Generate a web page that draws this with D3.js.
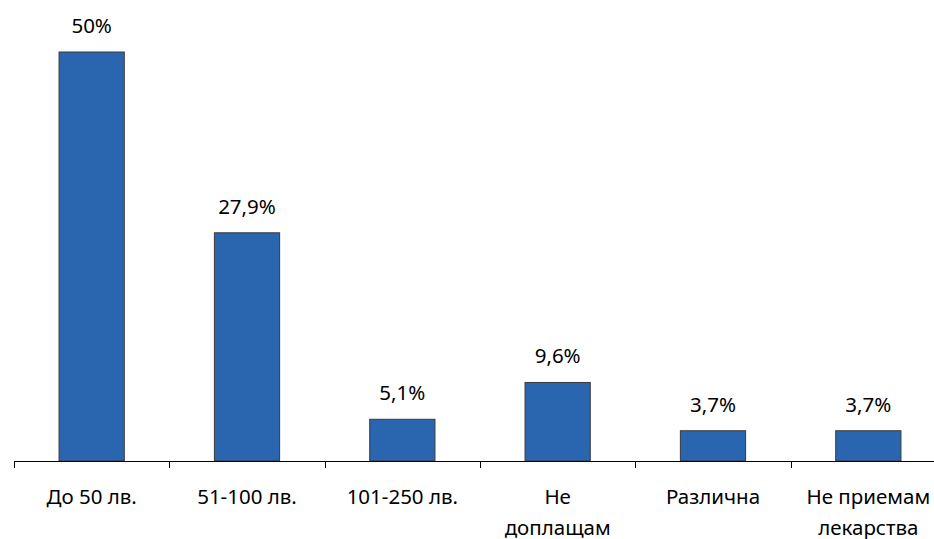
<!DOCTYPE html>
<html><head><meta charset="utf-8">
<script src="https://cdn.jsdelivr.net/npm/d3@7"></script>
<style>body{margin:0;background:#fff;overflow:hidden}svg{display:block}</style>
</head><body>
<script>
const categories = [["До 50 лв."], ["51-100 лв."], ["101-250 лв."], ["Не", "доплащам"], ["Различна"], ["Не приемам", "лекарства"]];
const values = [50, 27.9, 5.1, 9.6, 3.7, 3.7];
const valueLabels = ["50%", "27,9%", "5,1%", "9,6%", "3,7%", "3,7%"];

const W = 934, H = 539;
const svg = d3.select("body").append("svg").attr("width", W).attr("height", H);
const font = "'Noto Sans', 'Open Sans', sans-serif";

const x = d3.scaleBand().domain(d3.range(categories.length)).range([14, 946]).paddingInner(0.58).paddingOuter(0.29);
const y = d3.scaleLinear().domain([0, 50]).range([461, 52]);

svg.selectAll("rect.bar").data(values).join("rect")
  .attr("class", "bar")
  .attr("x", (d, i) => x(i))
  .attr("y", d => y(d))
  .attr("width", x.bandwidth())
  .attr("height", d => y(0) - y(d))
  .attr("fill", "#2a66b0")
  .attr("stroke", "#3a3a3a")
  .attr("stroke-width", 1);

svg.append("line").attr("x1", 14).attr("x2", 946).attr("y1", 461.5).attr("y2", 461.5)
  .attr("stroke", "#000").attr("stroke-width", 1);
const bounds = d3.range(categories.length + 1).map(i => 14 + i * (932 / categories.length));
svg.selectAll("line.tick").data(bounds).join("line").attr("class", "tick")
  .attr("x1", d => Math.round(d) + 0.5).attr("x2", d => Math.round(d) + 0.5)
  .attr("y1", 461).attr("y2", 468).attr("stroke", "#000");

svg.selectAll("text.val").data(valueLabels).join("text")
  .attr("class", "val")
  .attr("x", (d, i) => x(i) + x.bandwidth() / 2)
  .attr("y", (d, i) => y(values[i]) - 19)
  .attr("text-anchor", "middle")
  .attr("font-family", font).attr("font-size", 20.5).attr("fill", "#000")
  .text(d => d);

categories.forEach((lines, i) => {
  const t = svg.append("text")
    .attr("x", x(i) + x.bandwidth() / 2)
    .attr("y", 504)
    .attr("text-anchor", "middle")
    .attr("font-family", font).attr("font-size", 20.5).attr("fill", "#000");
  lines.forEach((l, j) => {
    t.append("tspan").attr("x", x(i) + x.bandwidth() / 2).attr("dy", j === 0 ? 0 : 31).text(l);
  });
});
</script>
</body></html>
